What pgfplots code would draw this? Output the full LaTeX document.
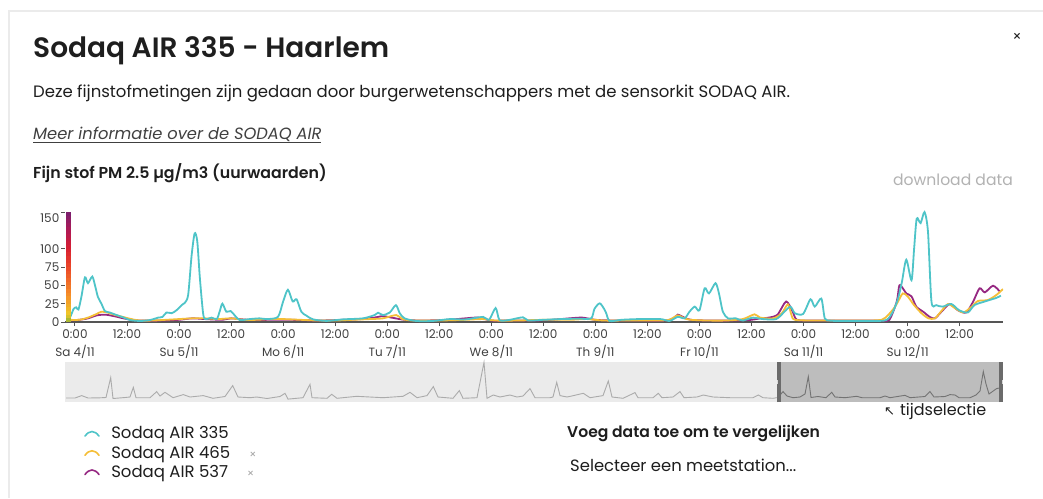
\documentclass[border=0pt]{standalone}
\usepackage{pgfplots}
\pgfplotsset{compat=1.18}
\usepackage{pgfplotstable}
\usepackage{fontspec}
\setmainfont{Poppins}
\newfontfamily\medfont{Poppins SemiBold}
\newfontfamily\symfont{DejaVu Sans}
\definecolor{tealc}{RGB}{78,196,200}
\definecolor{yellc}{RGB}{245,190,55}
\definecolor{purpc}{RGB}{150,40,130}
\definecolor{txt}{RGB}{30,30,30}
\definecolor{axc}{RGB}{85,85,85}

\pgfplotstableread{
h v
-1.5 3
-1 8
-0.3 18
0.3 20
0.8 17
1.5 35
2.3 61
3.0 53
4.0 62
4.7 48
5.3 34
6.1 25
6.9 15
8 13
9.6 9.5
11.1 6.4
12.7 2.7
15 1.4
17.3 2.7
19.2 6
20.2 7
21.1 13
22.3 12
23.4 16
24.6 23
25.3 26
26.1 37
26.9 91
27.6 121
28.2 110
28.8 60
29.6 9.5
30.3 4
31.5 6
32.7 4
33.4 15
34.0 25
34.9 14
35.9 15
36.9 8.6
38 2.7
40.3 4
42.6 5
44.2 4
46.8 7
48.0 28
49.1 44
50.2 28
51.1 31
52.2 14
53.4 8.6
54.9 3.6
58 1.5
61.8 3.6
66.4 5
69.1 9.5
69.9 12.7
71.0 9.5
72.6 13
74.0 23
74.9 12
76 5
78.7 1.4
82.5 1.4
86.4 4
90 3.5
94.1 7
95.5 3
97.0 19
97.9 2.7
100 2.7
103.3 6.4
104.5 2
108 3
112 4
116 4.5
119 5
119.8 18
121.0 25.5
122.0 18
122.5 12
123.3 1.4
126 3
130 4
135 4
137.1 1.4
139 7
140.6 5
141.7 14
142.9 21
144.0 16
145.2 46
146.2 39
147.7 53
148.5 39
149.4 14
150.6 5
152.4 5
154 2
156.3 6
158.6 4
161.7 4
163.6 14
165.0 21
166 12
167.9 11
169.6 31
170.6 21
172.1 32
172.9 5
174 2
176 1.4
180 1.4
184 1.4
187.1 2.7
188.6 14
189.8 32
190.7 55
191.7 85
192.9 57
193.5 100
194.1 141
195 135
195.9 150
196.7 123
197.5 28
198.6 23
200.1 21
202.1 24.5
203.9 16
205.9 13
207.4 23
209.8 28
212.5 33
213.5 36
}\tealdata

\pgfplotstableread{
h v
-1.5 3
1 3
3 6
5 11
6.1 14
7.5 13
9 10
11 7
13 4
15 2
18 2
21 3
24 4
27 5
30 5
33 4
36 5
39 3
42 3
45 4
48 4
52 3
56 2
60 2
64 3
68 4
71 5
74.1 9.5
75.5 4
78 2
84 2
90 3
94 4
97 2
102 2
108 3
114 3
118 4
122 2
128 2
134 2
137 3
139 9
140.5 5
142 3
146 2
150 2
154 4
156.7 10.5
158 6
161 5
163 12
164.4 24
165.3 8
166 3
170 2
176 2
182 2
186 3
187.5 9.5
189 20
189.8 28
190.9 39
192 35
193.5 23
195.2 12
196.8 5
198.3 5
199.8 15
201.3 24.5
202.9 19
204.8 13
206.6 20
208.2 28.6
210.5 30
212.5 37
214 45
}\yelldata

\pgfplotstableread{
h v
-1.5 2
1 3
3 5
5 9
7 10
9 8
12 4
15 2
20 2
24 3
27 5
30 4
34 3
36 5
40 3
46 3
50 3
56 2
62 3
66 4
69 6
71 8
73 6
76 3
80 2
86 3
90 5
93 6
96 2
100 2
106 2
110 3
114 5
117 6
120 3
124 2
130 2
136 2
138 5
139 10
140.5 6
142 3
146 2
152 2
156 3
158 5
160 6
162 10
164 28
165.5 14
166.5 3
170 2
178 2
186 2
187.8 3
189.5 28
190.1 50
190.9 46
191.7 39
192.9 35
194 21
195.6 14
197.1 7
198.3 5
199.8 14
201.7 24.5
203.6 16
205.5 13
207.1 27.7
208.6 46
209.8 40.5
211.7 49.5
213.2 42
}\purpdata

\pgfplotstableread{
x y
66 4
75 4
81.7 6.4
88 4
100 4.2
106 4.5
110.7 24.4
113 3.5
125 4.5
130 5
133.3 14.7
136 4.3
150 4.3
156.7 10.4
160 6
165 9.7
173 4.3
183.3 7.4
190 5
203.3 6.4
213 3.7
225 5.5
232.7 16.4
238 5
250 4.3
256.7 5
267 3.5
280 5.5
285 8.7
288 2.9
303 4.3
310 17.7
312 4.3
327 3.7
331.7 7.7
337 3.7
356.7 5.7
383 4.3
403 5.7
410 9.7
417 4.3
427 6.4
433.3 15.4
438 5
453 3.7
459.3 11.4
463 3.7
477 4.3
484 39.7
487 3.7
493.3 7
500 5
510 7
517 5
523 6
530 13.4
535 4.3
550 4.3
553 5
556.7 19.7
560 6.4
567 5
571.7 6
583.3 8.7
590 4.3
603 6.4
608.3 21
612 5
623 3.7
635 9.4
638 4.3
653 4.3
658.3 8.7
662 4.3
673 5
680 10.4
684 4.3
697 5
703.3 7
713 5
730 4.3
753 4.3
758.3 7
763 4.3
773 3.7
778 4.5
}\navlight

\pgfplotstableread{
x y
778 4.5
783 10.4
787 6
793 4.3
800 5
805 8
808.3 25.4
811 4.5
818 5.5
826 4.3
831.7 9.7
835 5
845 4.3
856.7 5.7
862 4.3
880 4.3
885 6
890 4.3
905 6.7
910 4.3
925 5.5
930 10.4
934 5
945 5.5
950 7.4
955 7
959 4.3
970 4.3
976 7
980 11
983.3 30.4
986 18
989 8
996.7 13.5
1000 14
}\navdark

\begin{document}
\begin{tikzpicture}
\useasboundingbox (0pt,0pt) rectangle (1043pt,-498pt);
\fill[white] (0pt,0pt) rectangle (1043pt,-498pt);
\draw[black!8, line width=2pt] (9pt,-498pt) -- (9pt,-11pt) -- (1043pt,-11pt);

\node[anchor=base west, text=txt, font=\fontsize{28}{34}\medfont, inner sep=0pt] at (33pt,-57pt) {Sodaq AIR 335 - Haarlem};
\node[anchor=center, text=txt, font=\fontsize{14}{14}\selectfont] at (1017pt,-37pt) {×};
\node[anchor=base west, text=txt, font=\fontsize{16.5}{18}\selectfont, inner sep=0pt] at (33pt,-97pt) {Deze fijnstofmetingen zijn gedaan door burgerwetenschappers met de sensorkit SODAQ AIR.};
\node[anchor=base west, text=txt!85, font=\fontsize{16.3}{18}\selectfont\itshape, inner sep=0pt] at (33pt,-139pt) {\underline{Meer informatie over de SODAQ AIR}};
\node[anchor=base west, text=txt, font=\fontsize{15.8}{18}\medfont, inner sep=0pt] at (33pt,-178pt) {Fijn stof PM 2.5 µg/m3 (uurwaarden)};
\node[anchor=base east, text=black!30, font=\fontsize{15.6}{18}\selectfont, inner sep=0pt] at (1013pt,-185pt) {download data};
\node[anchor=base west, text=txt, font=\fontsize{15.6}{18}\medfont, inner sep=0pt] at (567pt,-437pt) {Voeg data toe om te vergelijken};
\node[anchor=base west, text=txt, font=\fontsize{16.4}{18}\selectfont, inner sep=0pt] at (570pt,-471pt) {Selecteer een meetstation...};
\node[anchor=base west, text=txt, font=\fontsize{16}{18}\selectfont, inner sep=0pt] at (884pt,-415pt) {{\symfont\fontsize{13}{13}\selectfont ↖}\hspace{5pt}tijdselectie};

\begin{axis}[
  at={(65pt,-322pt)}, anchor=south west,
  scale only axis, width=938pt, height=111.4pt,
  xmin=-2.3, xmax=214, ymin=0, ymax=152,
  axis x line*=bottom, axis y line*=left,
  x axis line style={draw=axc, line width=1.2pt, -},
  y axis line style={draw=none},
  tick align=outside,
  major tick length=4pt,
  xtick={0,12,...,204},
  xticklabels={{0:00\\Sa 4/11},12:00,{0:00\\Su 5/11},12:00,{0:00\\Mo 6/11},12:00,{0:00\\Tu 7/11},12:00,{0:00\\We 8/11},12:00,{0:00\\Th 9/11},12:00,{0:00\\Fr 10/11},12:00,{0:00\\Sa 11/11},12:00,{0:00\\Su 12/11},12:00},
  xticklabel style={align=center, font=\fontsize{12}{18}\selectfont, text=txt!85, inner sep=2pt, yshift=-1pt},
  xtick style={draw=axc, line width=1pt},
  ytick={0,25,50,75,100},
  extra y ticks={150},
  extra y tick style={tick style={draw=none}, yticklabel style={yshift=-6pt}},
  yticklabel style={font=\fontsize{12}{12}\selectfont, text=txt!85, inner sep=1.5pt},
  ytick style={draw=axc, line width=1pt},
  /pgf/number format/assume math mode=true,
  point meta min=0, point meta max=150,
  colormap={aqi}{rgb255(0cm)=(150,180,50); rgb255(0.7cm)=(240,200,40); rgb255(2.5cm)=(245,140,40); rgb255(5cm)=(235,70,40); rgb255(6.7cm)=(215,30,50); rgb255(8.3cm)=(175,25,85); rgb255(10cm)=(120,30,110)},
  reverse legend,
  legend style={at={(0,0)}, anchor=north west, xshift=16pt, yshift=-101pt, draw=none, fill=none, font=\fontsize{16.5}{16.5}\selectfont, row sep=2.5pt, column sep=10pt, nodes={inner sep=1.5pt, text=txt}},
  legend cell align=left,
  legend image code/.code={\draw[#1, line width=1.6pt, line cap=round] (0pt,-2.5pt) .. controls (4.5pt,3.5pt) and (9.5pt,3.5pt) .. (14pt,-2.5pt);},
]
\addplot[purpc, line width=1.8pt, smooth, tension=0.45] table[x=h, y=v] {\purpdata};
\addlegendentry{Sodaq AIR 537\hspace{19pt}{\color{black!35}\fontsize{11}{11}\selectfont ×}}
\addplot[yellc, line width=1.8pt, smooth, tension=0.45] table[x=h, y=v] {\yelldata};
\addlegendentry{Sodaq AIR 465\hspace{19pt}{\color{black!35}\fontsize{11}{11}\selectfont ×}}
\addplot[tealc, line width=1.8pt, smooth, tension=0.45] table[x=h, y=v] {\tealdata};
\addlegendentry{Sodaq AIR 335}
\addplot[mesh, shader=flat, point meta=y, line width=5pt, forget plot] coordinates {(-1.6,0) (-1.6,5) (-1.6,10) (-1.6,15) (-1.6,20) (-1.6,25) (-1.6,30) (-1.6,35) (-1.6,40) (-1.6,45) (-1.6,50) (-1.6,55) (-1.6,60) (-1.6,65) (-1.6,70) (-1.6,75) (-1.6,80) (-1.6,85) (-1.6,90) (-1.6,95) (-1.6,100) (-1.6,105) (-1.6,110) (-1.6,115) (-1.6,120) (-1.6,125) (-1.6,130) (-1.6,135) (-1.6,140) (-1.6,145) (-1.6,150)};
\end{axis}

\begin{axis}[
  at={(65pt,-402pt)}, anchor=south west,
  scale only axis, width=938pt, height=40pt,
  xmin=65, xmax=1003, ymin=0, ymax=40,
  hide axis, clip=false,
]
\addplot[fill=black!8, draw=none] coordinates {(65,0) (65,40) (1003,40) (1003,0)} -- cycle;
\addplot[fill=black!26, draw=none] coordinates {(777,0) (777,40) (1003,40) (1003,0)} -- cycle;
\addplot[black!33, line width=0.9pt] table[x=x, y=y] {\navlight};
\addplot[black!55, line width=0.9pt] table[x=x, y=y] {\navdark};
\addplot[black!58, line width=4.5pt] coordinates {(779.2,0) (779.2,40)};
\addplot[black!58, line width=4.5pt] coordinates {(1000.8,0) (1000.8,40)};
\addplot[white!85!black, line width=1pt] coordinates {(777.6,18) (777.6,22)};
\addplot[white!85!black, line width=1pt] coordinates {(1002.4,18) (1002.4,22)};
\end{axis}
\end{tikzpicture}
\end{document}
